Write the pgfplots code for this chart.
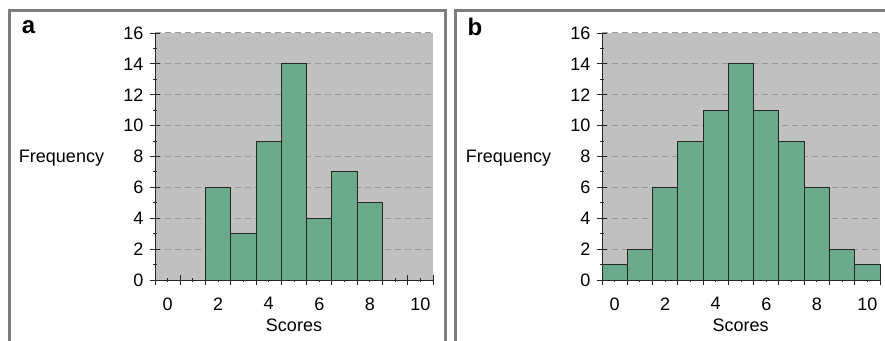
\documentclass[border=0pt]{standalone}
\usepackage{fontspec}
\setmainfont{Liberation Sans}
\usepackage{pgfplots}
\pgfplotsset{compat=1.18}
\definecolor{barg}{RGB}{106,170,138}
\definecolor{bgg}{RGB}{192,192,192}
\definecolor{frameg}{RGB}{125,125,125}
\pgfplotsset{histo/.style={
  scale only axis, width=278pt, height=247pt, anchor=south west,
  xmin=-0.5, xmax=10.5, ymin=0, ymax=16,
  axis lines=left, axis line style={-, black!85, line width=1pt},
  axis background/.style={fill=bgg},
  ytick={0,2,...,16}, minor y tick num=1,
  xtick={-0.5,0.5,...,10.5}, xticklabels={},
  extra x ticks={0,1,...,10},
  extra x tick labels={0,,2,,4,,6,,8,,10},
  extra x tick style={major tick length=4pt, grid=none},
  tick align=center, major tick length=10pt, minor tick length=4pt,
  tick style={black!85, line width=0.9pt},
  ymajorgrids, grid style={dashed, black!40, line width=1pt, dash pattern=on 6pt off 4pt},
  ticklabel style={font=\fontsize{18}{20}\selectfont},
  xticklabel style={yshift=-12pt},
  yticklabel style={xshift=-3pt},
  /pgf/number format/assume math mode=true,
  clip=false,
}}
\begin{document}
\begin{tikzpicture}[x=1pt,y=1pt]
\useasboundingbox (0,0) rectangle (885,340);
\draw[frameg, line width=2.2pt] (9.5,-20) -- (9.5,329.5) -- (445.5,329.5) -- (445.5,-20);
\draw[frameg, line width=2.2pt] (455.5,-20) -- (455.5,329.5) -- (900,329.5);
\begin{axis}[histo, at={(155pt,60pt)}]
\addplot[ybar, bar width=1, fill=barg, draw=black!85, line width=1pt] coordinates {(2,6) (3,3) (4,9) (5,14) (6,4) (7,7) (8,5)};
\end{axis}
\begin{axis}[histo, at={(602pt,60pt)}]
\addplot[ybar, bar width=1, fill=barg, draw=black!85, line width=1pt] coordinates {(0,1) (1,2) (2,6) (3,9) (4,11) (5,14) (6,11) (7,9) (8,6) (9,2) (10,1)};
\end{axis}
\node[font=\fontsize{24}{26}\selectfont\bfseries] at (28.5,313) {a};
\node[font=\fontsize{24}{26}\selectfont\bfseries] at (475,313) {b};
\node[font=\fontsize{18}{20}\selectfont] at (61.5,182) {Frequency};
\node[font=\fontsize{18}{20}\selectfont] at (508.5,182) {Frequency};
\node[font=\fontsize{18}{20}\selectfont] at (294,15) {Scores};
\node[font=\fontsize{18}{20}\selectfont] at (740.5,15) {Scores};
\end{tikzpicture}
\end{document}
